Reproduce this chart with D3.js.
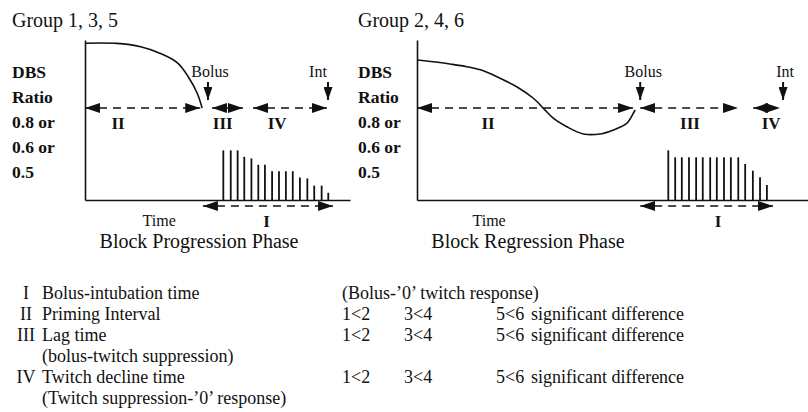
<!DOCTYPE html>
<html><head><meta charset="utf-8">
<script src="https://cdn.jsdelivr.net/npm/d3@7"></script>
<style>body{margin:0;background:#fff}svg{display:block}</style>
</head><body><svg id="c" width="808" height="412"></svg>
<script>
// ---------------- data ----------------
const panelTitles = ["Group 1, 3, 5", "Group 2, 4, 6"];
const phaseTitles = ["Block Progression Phase", "Block Regression Phase"];
const yLabelLines = ["DBS", "Ratio", "0.8 or", "0.6 or", "0.5"];
const timeMax = [100, 147.5];

// DBS ratio curves [time, ratio]
const curveLeft = [[0,0.98],[12,0.979],[21,0.958],[28,0.919],[35,0.856],[39,0.769],[42.3,0.669],[44.2,0.575]];
const curveRight = [[0,0.875],[6.2,0.864],[12.5,0.85],[18.8,0.833],[25,0.808],[31.3,0.761],[37.6,0.708],[43.9,0.636],[47.7,0.573],[51.4,0.511],[56.5,0.458],[62.8,0.413],[69.1,0.413],[74.1,0.438],[79.1,0.479],[81.6,0.542],[82.3,0.5625]];

// twitch responses [time], [height]
const twitchTimesLeft = [52.2,55.0,57.6,60.1,62.8,65.4,67.9,70.6,73.2,75.8,78.4,81.1,83.9,86.5,89.3,91.8];
const twitchHeightsLeft = [0.31,0.31,0.31,0.27,0.26,0.22,0.22,0.18,0.18,0.18,0.18,0.14,0.135,0.09,0.09,0.045];
const twitchTimesRight = [94.8,97.4,99.9,102.6,105.3,107.8,110.6,113.1,115.8,118.4,121.2,123.8,126.7,129.4,132.0];
const twitchHeightsRight = [0.31,0.267,0.267,0.267,0.267,0.267,0.267,0.267,0.267,0.267,0.267,0.225,0.183,0.142,0.094];

// intervals [start, end] in time units
const intervalNames = ["II", "III", "IV"];
const intervalsLeft = [[0,43.5],[47.9,59.6],[63.4,91.3]];
const intervalsRight = [[0,81.5],[84.2,121.1],[126.8,137]];
const intervalLabelTimesLeft = [12.5, 52, 72.5];
const intervalLabelTimesRight = [26.8, 103, 133.6];
const intervalLevel = 0.575;
const intervalILeft = [44.5, 93.6];
const intervalIRight = [84.2, 134.3];
const iLabelTimes = [68.5, 113.6];
const timeLabelTimes = [28, 27.2];
const bolusTimes = [46.4, 84.2];
const intTimes = [91.7, 138.1];
const markerTip = 0.625;

// legend table
const legendNumerals = ["I", "II", "III", "", "IV", ""];
const legendTexts = ["Bolus-intubation time", "Priming Interval", "Lag time", "(bolus-twitch suppression)", "Twitch decline time", "(Twitch suppression-\u20190\u2019 response)"];
const legendCol2 = ["(Bolus-\u20190\u2019 twitch response)", "1<2", "1<2", "", "1<2", ""];
const legendCol3 = ["", "3<4", "3<4", "", "3<4", ""];
const legendCol4 = ["", "5<6", "5<6", "", "5<6", ""];
const legendCol5 = ["", "significant difference", "significant difference", "", "significant difference", ""];

// ---------------- drawing ----------------
const svg = d3.select("#c");
const serif = "'Liberation Serif','Times New Roman',serif";
svg.append("rect").attr("width",808).attr("height",412).attr("fill","#fff");

const defs = svg.append("defs");
defs.append("marker").attr("id","hh").attr("viewBox","0 -5 15 10").attr("refX",15).attr("refY",0)
  .attr("markerWidth",15).attr("markerHeight",10).attr("markerUnits","userSpaceOnUse").attr("orient","auto-start-reverse")
  .append("path").attr("d","M0,-5L15,0L0,5Z").attr("fill","#111");
defs.append("marker").attr("id","vh").attr("viewBox","0 -4.5 13 9").attr("refX",13).attr("refY",0)
  .attr("markerWidth",13).attr("markerHeight",9).attr("markerUnits","userSpaceOnUse").attr("orient","auto")
  .append("path").attr("d","M0,-4.5L13,0L0,4.5Z").attr("fill","#111");

const panels = [
  {x0:85, x1:350, labX:12, curve:curveLeft, tt:twitchTimesLeft, th:twitchHeightsLeft, iv:intervalsLeft, ivl:intervalLabelTimesLeft, ivI:intervalILeft, intOff:-10, bolOff:2, phaseX:199},
  {x0:417, x1:808, labX:358, curve:curveRight, tt:twitchTimesRight, th:twitchHeightsRight, iv:intervalsRight, ivl:intervalLabelTimesRight, ivI:intervalIRight, intOff:2, bolOff:3, phaseX:528}
];

const y = d3.scaleLinear().domain([0,1]).range([200,40]);

panels.forEach((p, i) => {
  const x = d3.scaleLinear().domain([0, timeMax[i]]).range([p.x0, p.x1]);
  const g = svg.append("g");

  g.append("text").attr("x", p.labX).attr("y", 27).attr("font-family", serif).attr("font-size", 20)
    .attr("fill","#111").text(panelTitles[i]);
  yLabelLines.forEach((t, k) => {
    g.append("text").attr("x", p.labX).attr("y", 78 + k*25).attr("font-family", serif)
      .attr("font-size", 17.5).attr("font-weight","bold").attr("fill","#111").text(t);
  });

  const ax = g.append("g").attr("transform", `translate(0,${y(0)})`)
    .call(d3.axisBottom(x).ticks(0).tickSizeOuter(0));
  const ay = g.append("g").attr("transform", `translate(${x(0)},0)`)
    .call(d3.axisLeft(y).ticks(0).tickSizeOuter(0));
  [ax, ay].forEach(a => a.select(".domain").attr("stroke","#111").attr("stroke-width",1.6));

  g.append("path").datum(p.curve)
    .attr("d", d3.line().x(d => x(d[0])).y(d => y(d[1])).curve(d3.curveCatmullRom.alpha(0.5)))
    .attr("fill","none").attr("stroke","#111").attr("stroke-width",1.6);

  g.selectAll("line.tw").data(p.tt).join("line").attr("class","tw")
    .attr("x1", d => x(d)).attr("x2", d => x(d))
    .attr("y1", y(0)).attr("y2", (d, k) => y(p.th[k]))
    .attr("stroke","#111").attr("stroke-width",1.8);

  p.iv.forEach((iv, k) => {
    g.append("line").attr("x1", x(iv[0])).attr("x2", x(iv[1]))
      .attr("y1", y(intervalLevel)).attr("y2", y(intervalLevel))
      .attr("stroke","#111").attr("stroke-width",1.6).attr("stroke-dasharray","8,6")
      .attr("marker-start","url(#hh)").attr("marker-end","url(#hh)");
    g.append("text").attr("x", x(p.ivl[k])).attr("y", y(intervalLevel) + 21)
      .attr("text-anchor","middle").attr("font-family", serif).attr("font-size", 17)
      .attr("font-weight","bold").attr("fill","#111").text(intervalNames[k]);
  });

  g.append("line").attr("x1", x(p.ivI[0])).attr("x2", x(p.ivI[1]))
    .attr("y1", y(0) + 6).attr("y2", y(0) + 6)
    .attr("stroke","#111").attr("stroke-width",1.6).attr("stroke-dasharray","8,6")
    .attr("marker-start","url(#hh)").attr("marker-end","url(#hh)");
  g.append("text").attr("x", x(iLabelTimes[i])).attr("y", 227).attr("text-anchor","middle")
    .attr("font-family", serif).attr("font-size", 17).attr("font-weight","bold").attr("fill","#111").text("I");
  g.append("text").attr("x", x(timeLabelTimes[i])).attr("y", 226).attr("text-anchor","middle")
    .attr("font-family", serif).attr("font-size", 16).attr("fill","#111").text("Time");
  g.append("text").attr("x", p.phaseX).attr("y", 248).attr("text-anchor","middle")
    .attr("font-family", serif).attr("font-size", 20).attr("fill","#111").text(phaseTitles[i]);

  [[bolusTimes[i], "Bolus", p.bolOff], [intTimes[i], "Int", p.intOff]].forEach(m => {
    g.append("line").attr("x1", x(m[0])).attr("x2", x(m[0]))
      .attr("y1", y(markerTip) - 18).attr("y2", y(markerTip))
      .attr("stroke","#111").attr("stroke-width",2).attr("marker-end","url(#vh)");
    g.append("text").attr("x", x(m[0]) + m[2]).attr("y", y(markerTip) - 23).attr("text-anchor","middle")
      .attr("font-family", serif).attr("font-size", 16).attr("fill","#111").text(m[1]);
  });
});

// legend table
const lg = svg.append("g").attr("font-family", serif).attr("font-size", 18).attr("fill","#111");
const rowY = k => 299 + k*21;
legendTexts.forEach((t, k) => {
  lg.append("text").attr("x", 26).attr("y", rowY(k)).attr("text-anchor","middle").text(legendNumerals[k]);
  lg.append("text").attr("x", 42).attr("y", rowY(k)).text(t);
  lg.append("text").attr("x", 342).attr("y", rowY(k)).text(legendCol2[k]);
  lg.append("text").attr("x", 404).attr("y", rowY(k)).text(legendCol3[k]);
  lg.append("text").attr("x", 496).attr("y", rowY(k)).text(legendCol4[k]);
  lg.append("text").attr("x", 531).attr("y", rowY(k)).text(legendCol5[k]);
});
</script></body></html>
